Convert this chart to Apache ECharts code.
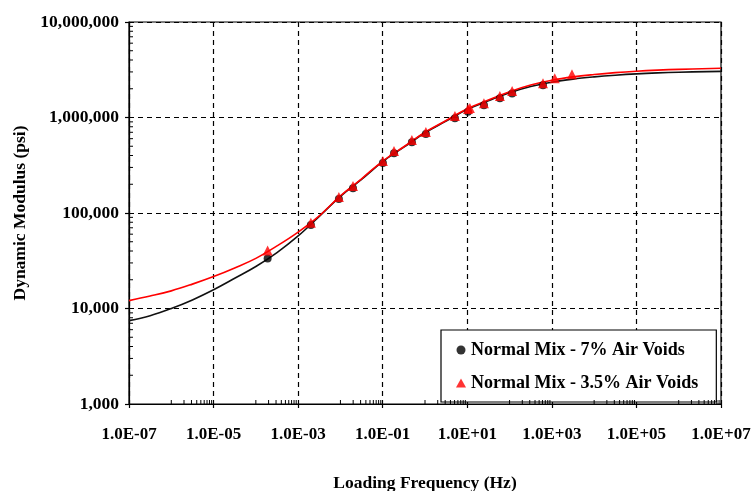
<!DOCTYPE html>
<html>
<head>
<meta charset="utf-8">
<script src="https://cdn.jsdelivr.net/npm/echarts@6/dist/echarts.min.js"></script>
<style>html,body{margin:0;padding:0;background:#fff;}#c{width:752px;height:491px;}</style>
</head>
<body>
<div id="c"></div>
<script>
// ---- data ----
const seriesNames = ['Normal Mix - 7% Air Voids', 'Normal Mix - 3.5% Air Voids'];

// measured points (frequency Hz, dynamic modulus psi)
const freq7 = [1.9e-4, 2.0e-3, 9.2e-3, 0.0198, 0.101, 0.185, 0.49, 1.05, 5.1, 10.4, 24.8, 59, 115, 617];
const mod7  = [33400, 75000, 140000, 182000, 333000, 423000, 551000, 670000, 983000, 1150000, 1343000, 1590000, 1780000, 2175000];

const freq35 = [1.9e-4, 2.0e-3, 9.2e-3, 0.0198, 0.101, 0.185, 0.49, 1.05, 5.1, 10.4, 11.5, 24.8, 59, 115, 617, 1170, 2990];
const mod35  = [40500, 79000, 147000, 192000, 350000, 445000, 580000, 705000, 1035000, 1225000, 1260000, 1414000, 1675000, 1890000, 2290000, 2580000, 2830000];

// master curves (frequency Hz, modulus psi)
const curveFreq = [1e-7, 3.16e-7, 1e-6, 3.16e-6, 1e-5, 3.16e-5, 1e-4, 3.16e-4, 1e-3, 3.16e-3, 1e-2, 3.16e-2, 1e-1, 3.16e-1, 1, 3.16, 10, 31.6, 100, 316, 1000, 3162, 1e4, 3.16e4, 1e5, 3.16e5, 1e6, 1e7];
const curve7  = [7460, 8410, 10000, 12300, 15700, 20700, 27500, 38500, 57500, 92300, 149600, 225000, 346000, 489000, 692000, 918000, 1216000, 1496000, 1820000, 2113000, 2344000, 2523000, 2661000, 2773000, 2864000, 2931000, 2979000, 3041000];
const curve35 = [12100, 13500, 15300, 18000, 21600, 26600, 33500, 45200, 63100, 93300, 151000, 228000, 350000, 494000, 700000, 930000, 1236000, 1521000, 1862000, 2188000, 2455000, 2661000, 2818000, 2951000, 3055000, 3133000, 3192000, 3273000];

// axis ranges and ticks
const xMin = 1e-7, xMax = 1e7;
const yMin = 1000, yMax = 1e7;
const xMinorTicks = [];
[-6, -4, -2, 0, 2, 4, 6].forEach(function (e) { for (let k = 1; k <= 9; k++) xMinorTicks.push(k * Math.pow(10, e)); });
const yMinorTicks = [];
[3, 4, 5, 6].forEach(function (e) { for (let k = 2; k <= 9; k++) yMinorTicks.push(k * Math.pow(10, e)); });

// ---- chart ----
const zip = (a, b) => a.map((v, i) => [v, b[i]]);
const font = 'Liberation Serif';
const chart = echarts.init(document.getElementById('c'), null, { renderer: 'canvas' });

function xLabel(v) {
  const e = Math.round(Math.log10(v));
  return '1.0E' + (e < 0 ? '-' : '+') + String(Math.abs(e)).padStart(2, '0');
}
function yLabel(v) {
  const n = Math.round(v);
  return String(n).replace(/\B(?=(\d{3})+(?!\d))/g, ',');
}

chart.setOption({
  animation: false,
  backgroundColor: '#fff',
  grid: { left: 129, right: 31, top: 22, bottom: 87, outerBoundsMode: 'none', containLabel: false, show: true, borderColor: '#000', borderWidth: 1.2, backgroundColor: 'transparent' },
  legend: {
    data: seriesNames,
    orient: 'vertical',
    left: 441, top: 330,
    backgroundColor: '#fff',
    borderColor: '#000', borderWidth: 1.2,
    padding: [11, 18, 10, 15],
    itemGap: 15,
    itemWidth: 10, itemHeight: 9,
    itemTextGap: 10,
    textStyle: { fontFamily: font, fontWeight: 'bold', fontSize: 18, color: '#000' }
  },
  xAxis: {
    type: 'log', logBase: 10, min: xMin, max: xMax, interval: 2,
    name: 'Loading Frequency (Hz)', nameLocation: 'middle', nameGap: 70,
    nameTextStyle: { fontFamily: font, fontWeight: 'bold', fontSize: 17.5, color: '#000' },
    axisLine: { lineStyle: { color: '#000', width: 1.2 } },
    axisTick: { show: true, length: 4, lineStyle: { color: '#000', width: 1.2 } },
    axisLabel: { formatter: xLabel, margin: 22, fontFamily: font, fontWeight: 'bold', fontSize: 17, color: '#000' },
    splitLine: { show: true, lineStyle: { color: '#000', type: [5, 4], width: 1.2 } }
  },
  yAxis: {
    type: 'log', logBase: 10, min: yMin, max: yMax, interval: 1,
    name: 'Dynamic Modulus (psi)', nameLocation: 'middle', nameGap: 98,
    nameTextStyle: { fontFamily: font, fontWeight: 'bold', fontSize: 17.5, color: '#000' },
    axisLine: { lineStyle: { color: '#000', width: 1.2 } },
    axisTick: { show: true, length: 4, lineStyle: { color: '#000', width: 1.2 } },
    axisLabel: { formatter: yLabel, margin: 10, fontFamily: font, fontWeight: 'bold', fontSize: 17.5, color: '#000' },
    splitLine: { show: true, lineStyle: { color: '#000', type: [5, 4], width: 1.2 } }
  },
  series: [
    {
      name: 'curve7', type: 'line', data: zip(curveFreq, curve7), smooth: 0.4, showSymbol: false,
      lineStyle: { color: '#111', width: 1.6 }, silent: true, z: 3
    },
    {
      name: 'curve35', type: 'line', data: zip(curveFreq, curve35), smooth: 0.4, showSymbol: false,
      lineStyle: { color: '#ff0000', width: 1.6 }, silent: true, z: 4
    },
    {
      name: seriesNames[0], type: 'scatter', data: zip(freq7, mod7), symbol: 'circle', symbolSize: 8,
      itemStyle: { color: '#000' }, z: 5
    },
    {
      name: seriesNames[1], type: 'scatter', data: zip(freq35, mod35), symbol: 'triangle', symbolSize: 10,
      itemStyle: { color: '#ff0000' }, z: 6
    },
    {
      name: 'xminor', type: 'custom', silent: true, clip: false, z: 10,
      data: xMinorTicks.map(v => [v, yMin]),
      renderItem: function (params, api) {
        const p = api.coord([api.value(0), api.value(1)]);
        return { type: 'line', shape: { x1: p[0], y1: p[1], x2: p[0], y2: p[1] - 4 }, style: { stroke: '#000', lineWidth: 1 } };
      }
    },
    {
      name: 'yminor', type: 'custom', silent: true, clip: false, z: 10,
      data: yMinorTicks.map(v => [xMin, v]),
      renderItem: function (params, api) {
        const p = api.coord([api.value(0), api.value(1)]);
        return { type: 'line', shape: { x1: p[0], y1: p[1], x2: p[0] + 4, y2: p[1] }, style: { stroke: '#000', lineWidth: 1 } };
      }
    }
  ]
});
</script>
</body>
</html>
